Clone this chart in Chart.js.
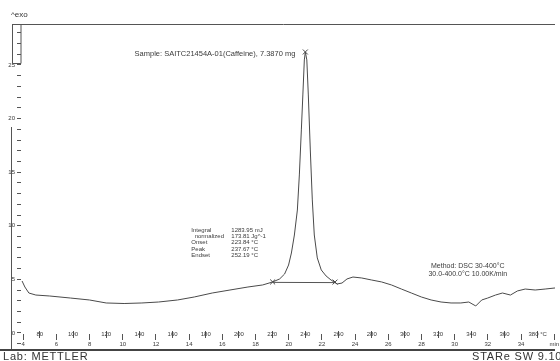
<!DOCTYPE html>
<html>
<head>
<meta charset="utf-8">
<script src="https://cdn.jsdelivr.net/npm/chart.js@4.4.1/dist/chart.umd.min.js"></script>
<style>
  html, body { margin: 0; padding: 0; background: #fff; overflow: hidden; }
  #wrap { position: relative; width: 560px; height: 361px; font-family: 'Liberation Sans', Arial, sans-serif; color: #333; }
  #cv { position: absolute; left: 0; top: 0; }
  .lbl { position: absolute; white-space: nowrap; line-height: 1; }
</style>
</head>
<body>
<div id="wrap">
  <canvas id="cv" width="560" height="361"></canvas>
  <div class="lbl" style="left:11px;top:11px;font-size:8px">^exo</div>
  <div class="lbl" style="left:3px;top:351px;font-size:11px;letter-spacing:0.8px">Lab: METTLER</div>
  <div class="lbl" style="left:472px;top:351px;font-size:11px;letter-spacing:0.8px">STARe SW 9.10</div>
</div>
<script>
// DSC curve (temperature in °C, heat flow in mW)
const tempC = [
  69.3, 71.0, 73.4, 77.6, 86.0, 98.5, 109.9, 120.0, 130.8, 141.5,
  151.6, 163.0, 173.1, 183.9, 194.6, 205.4, 214.3, 220.3, 224.5, 227.5,
  229.9, 231.6, 233.4, 235.2, 236.4, 237.6, 238.5, 239.4, 240.0, 240.9,
  241.8, 243.0, 244.2, 245.4, 247.2, 249.6, 252.5, 255.5, 259.1, 262.1,
  265.1, 268.7, 274.0, 280.0, 286.0, 291.9, 297.9, 303.9, 309.9, 315.8,
  321.8, 327.8, 333.7, 338.5, 342.7, 346.3, 349.9, 354.6, 358.8, 363.6,
  367.8, 372.5, 378.5, 384.5, 390.5
]
const heatFlow = [
  4.85, 4.29, 3.73, 3.54, 3.45, 3.26, 3.08, 2.80, 2.75, 2.80,
  2.89, 3.08, 3.36, 3.73, 4.01, 4.29, 4.48, 4.76, 5.04, 5.50,
  6.34, 7.46, 9.14, 11.47, 14.74, 18.94, 22.20, 25.47, 26.21, 25.47,
  22.20, 17.07, 12.41, 9.14, 7.00, 5.88, 5.32, 4.94, 4.57, 4.66,
  5.04, 5.22, 5.13, 4.94, 4.76, 4.48, 4.10, 3.73, 3.36, 3.08,
  2.89, 2.80, 2.80, 2.89, 2.52, 3.08, 3.26, 3.54, 3.73, 3.54,
  3.92, 4.10, 4.01, 4.10, 4.20
]

// integration baseline and onset / peak / endset marks
const baseT = [220.3, 257.9]
const baseY = [4.72, 4.70]
const markT = [220.3, 240.0, 257.9]
const markY = [4.76, 26.21, 4.75]

// axis ticks
const tempTicks = [80, 100, 120, 140, 160, 180, 200, 220, 240, 260, 280, 300, 320, 340, 360, 380]
const minTicks = [4, 6, 8, 10, 12, 14, 16, 18, 20, 22, 24, 26, 28, 30, 32, 34, 36]
const flowTicks = [-1, 0, 1, 2, 3, 4, 5, 6, 7, 8, 9, 10, 11, 12, 13, 14, 15, 16, 17, 18, 19, 20, 21, 22, 23, 24, 25, 26, 27, 28]

// texts
const sampleText = 'Sample: SAITC21454A-01(Caffeine), 7.3870 mg'
const statsLabels = ['Integral', '  normalized', 'Onset', 'Peak', 'Endset']
const statsValues = ['1283.95 mJ', '173.81 Jg^-1', '223.84 °C', '237.67 °C', '252.19 °C']
const methodLines = ['Method: DSC 30-400°C', '30.0-400.0°C 10.00K/min']

const RUN_START = 30, RATE = 10           // °C, K/min
const T_MIN = 68.66, T_MAX = 390.45
const Y_MIN = -1.586, Y_MAX = 28.82
const FONT = "'Liberation Sans', Arial, sans-serif"
const INK = '#3a3a3a'

Chart.defaults.font.family = FONT
Chart.defaults.color = INK

const noPad = s => { s.paddingLeft = 0; s.paddingRight = 0; s.paddingTop = 0; s.paddingBottom = 0 }

// frame lines of the STARe plot
const framePlugin = {
  id: 'frame',
  afterDraw (chart) {
    const { ctx, chartArea: a } = chart
    ctx.save()
    ctx.strokeStyle = '#555'; ctx.lineWidth = 1
    ctx.beginPath()
    ctx.moveTo(12, a.top + 0.5); ctx.lineTo(a.right, a.top + 0.5)
    ctx.rect(12.5, a.top + 0.5, 8.5, 39)
    ctx.moveTo(11.5, 127); ctx.lineTo(11.5, a.bottom)
    ctx.stroke()
    ctx.strokeStyle = '#444'; ctx.lineWidth = 2
    ctx.beginPath(); ctx.moveTo(0, a.bottom); ctx.lineTo(a.right, a.bottom); ctx.stroke()
    ctx.restore()
  }
}

// result texts
const notesPlugin = {
  id: 'notes',
  afterDatasetsDraw (chart) {
    const { ctx, scales: { x, y } } = chart
    ctx.save()
    ctx.fillStyle = INK; ctx.textBaseline = 'middle'
    ctx.font = '7.5px ' + FONT
    ctx.textAlign = 'right'
    ctx.fillText(sampleText, x.getPixelForValue(markT[1]) - 10, y.getPixelForValue(markY[1]) + 2)

    ctx.font = '6px ' + FONT
    ctx.textAlign = 'left'
    const sx = x.getPixelForValue(171.3), sy = y.getPixelForValue(9.6)
    statsLabels.forEach((l, i) => {
      ctx.fillText(l, sx, sy + i * 6.3)
      ctx.fillText(statsValues[i], sx + 40, sy + i * 6.3)
    })

    ctx.font = '7px ' + FONT
    ctx.textAlign = 'center'
    const mx = x.getPixelForValue(337.9), my = y.getPixelForValue(6.25)
    methodLines.forEach((l, i) => ctx.fillText(l, mx, my + i * 8))
    ctx.restore()
  }
}

const xs = (id, pos, ticks, extra) => Object.assign({
  type: 'linear', axis: 'x', position: { y: pos },
  border: { display: false },
  afterFit: noPad
}, extra)

new Chart(document.getElementById('cv'), {
  type: 'line',
  data: {
    datasets: [
      {
        data: tempC.map((t, i) => ({ x: t, y: heatFlow[i] })),
        borderColor: '#4a4a4a', borderWidth: 1, pointRadius: 0, tension: 0
      },
      {
        data: baseT.map((t, i) => ({ x: t, y: baseY[i] })),
        borderColor: '#555', borderWidth: 1, pointRadius: 0
      },
      {
        data: markT.map((t, i) => ({ x: t, y: markY[i] })),
        showLine: false, pointStyle: 'crossRot', pointRadius: 3.5,
        borderColor: '#444', borderWidth: 1
      }
    ]
  },
  options: {
    responsive: false, animation: false, devicePixelRatio: 1,
    layout: { padding: { top: 24, bottom: 11, left: 0, right: 0 } },
    plugins: { legend: { display: false }, tooltip: { enabled: false } },
    scales: {
      x: xs('x', 1.03, tempTicks, {
        min: T_MIN, max: T_MAX,
        grid: { display: false },
        afterBuildTicks: s => { s.ticks = tempTicks.map(v => ({ value: v })) },
        ticks: {
          autoSkip: false, maxRotation: 0, padding: 1, color: INK, font: { size: 6 },
          callback: v => v === 380 ? '380 °C' : String(v)
        }
      }),
      xt: xs('xt', 0.19, tempTicks, {
        min: T_MIN, max: T_MAX,
        grid: { drawOnChartArea: false, tickLength: 7, color: '#555' },
        afterBuildTicks: s => { s.ticks = tempTicks.map(v => ({ value: v })) },
        ticks: { display: false }
      }),
      xm: xs('xm', -0.09, minTicks, {
        min: (T_MIN - RUN_START) / RATE, max: (T_MAX - RUN_START) / RATE,
        grid: { drawOnChartArea: false, tickLength: 6, color: '#555' },
        afterBuildTicks: s => { s.ticks = minTicks.map(v => ({ value: v })) },
        ticks: {
          autoSkip: false, maxRotation: 0, padding: 1, color: INK, font: { size: 6 },
          callback: v => v === 36 ? 'min' : String(v)
        }
      }),
      y: {
        type: 'linear', position: 'left', min: Y_MIN, max: Y_MAX,
        border: { display: false },
        grid: { drawOnChartArea: false, tickLength: 4, color: '#555' },
        afterBuildTicks: s => { s.ticks = flowTicks.map(v => ({ value: v })) },
        afterFit: s => { s.width = 21; noPad(s) },
        ticks: {
          autoSkip: false, padding: 2, color: INK, font: { size: 6 },
          callback: v => v % 5 === 0 ? String(v) : ''
        }
      }
    }
  },
  plugins: [framePlugin, notesPlugin]
})
</script>
</body>
</html>
